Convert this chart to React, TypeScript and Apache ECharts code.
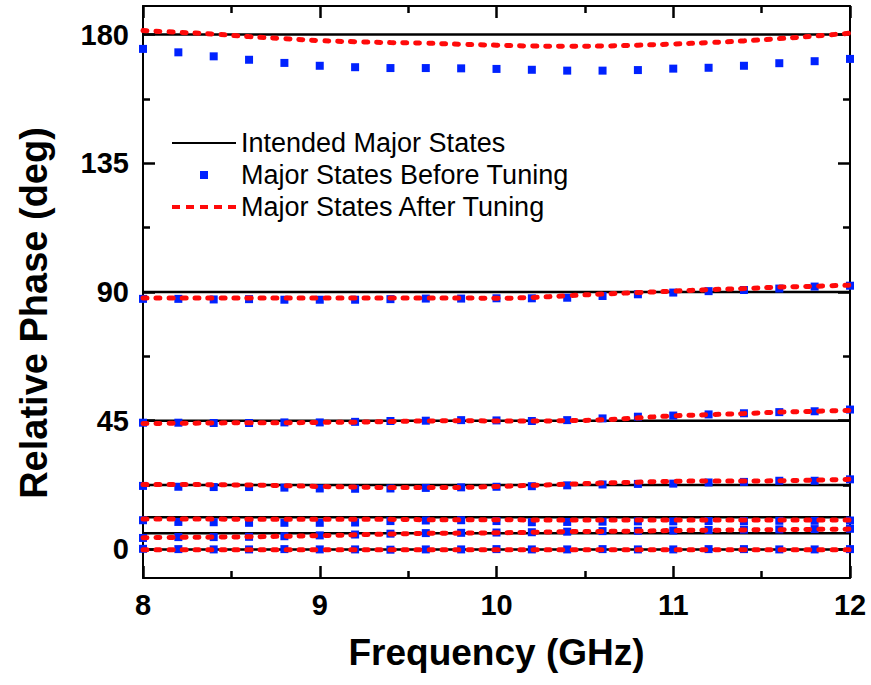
import React, { useEffect, useRef } from "react";
import * as echarts from "echarts";

// Frequency sweep (GHz), one sample every 0.2 GHz
const freq: number[] = [8.0, 8.2, 8.4, 8.6, 8.8, 9.0, 9.2, 9.4, 9.6, 9.8, 10.0, 10.2, 10.4, 10.6, 10.8, 11.0, 11.2, 11.4, 11.6, 11.8, 12.0];

// Intended major phase states (deg)
const intendedStates: number[] = [180, 90, 45, 22.5, 11.25, 5.625, 0];

// Measured phase before tuning (deg)
const before180: number[] = [175.0, 173.8, 172.4, 171.2, 170.1, 169.1, 168.6, 168.3, 168.3, 168.2, 168.0, 167.7, 167.4, 167.4, 167.6, 168.1, 168.4, 169.1, 170.0, 170.7, 171.5];
const before90: number[] = [87.6, 87.6, 87.4, 87.5, 87.3, 87.3, 87.3, 87.5, 87.7, 87.7, 87.8, 87.8, 88.0, 88.6, 89.2, 89.8, 90.3, 90.7, 91.2, 91.9, 92.2];
const before45: number[] = [44.3, 44.3, 44.2, 44.2, 44.4, 44.4, 44.6, 44.9, 45.0, 45.2, 45.1, 44.9, 45.2, 45.8, 46.4, 46.8, 47.2, 47.6, 48.0, 48.3, 48.9];
const before22: number[] = [22.2, 21.9, 21.8, 21.8, 21.6, 21.3, 21.2, 21.3, 21.5, 21.7, 21.9, 22.1, 22.4, 22.7, 22.9, 23.0, 23.4, 23.6, 24.0, 24.0, 24.5];
const before11: number[] = [10.2, 9.6, 9.5, 9.3, 9.3, 9.3, 9.4, 9.9, 10.1, 10.2, 9.9, 9.5, 9.6, 9.7, 9.8, 9.8, 9.9, 9.9, 10.0, 10.0, 10.1];
const before5: number[] = [4.0, 4.3, 4.3, 4.4, 4.6, 4.9, 5.2, 5.5, 5.7, 5.8, 5.9, 6.0, 6.2, 6.4, 6.5, 6.6, 6.8, 6.9, 7.0, 7.1, 7.2];
const before0: number[] = [0.2, 0.1, 0.0, 0.0, 0.1, 0.0, 0.0, -0.1, 0.0, 0.0, 0.1, 0.0, 0.0, 0.1, 0.0, 0.0, 0.1, 0.1, 0.0, 0.0, 0.1];

// Measured phase after tuning (deg)
const after180: number[] = [181.4, 180.8, 180.2, 179.3, 178.6, 177.9, 177.5, 177.2, 177.0, 176.6, 176.3, 176.0, 175.9, 176.0, 176.3, 176.7, 177.2, 177.8, 178.6, 179.5, 180.5];
const after90: number[] = [87.9, 87.9, 87.9, 87.9, 87.9, 87.9, 87.9, 87.9, 87.9, 87.9, 87.8, 88.1, 88.7, 89.3, 89.8, 90.3, 90.8, 91.2, 91.7, 92.0, 92.4];
const after45: number[] = [44.0, 44.1, 44.2, 44.3, 44.3, 44.4, 44.5, 44.7, 44.9, 45.0, 44.9, 44.9, 45.0, 45.3, 46.0, 46.7, 47.1, 47.5, 48.0, 48.3, 48.6];
const after22: number[] = [22.7, 22.7, 22.6, 22.5, 22.3, 22.0, 21.8, 21.6, 21.6, 21.7, 22.0, 22.4, 22.8, 23.2, 23.5, 23.8, 23.9, 23.9, 24.0, 24.2, 24.5];
const after11: number[] = [10.6, 10.6, 10.6, 10.5, 10.5, 10.5, 10.5, 10.5, 10.4, 10.4, 10.4, 10.3, 10.3, 10.3, 10.3, 10.3, 10.3, 10.3, 10.3, 10.3, 10.3];
const after5: number[] = [4.1, 4.2, 4.3, 4.4, 4.6, 4.8, 5.1, 5.4, 5.6, 5.7, 5.8, 6.0, 6.2, 6.3, 6.4, 6.6, 6.7, 6.8, 6.9, 7.0, 7.1];
const after0: number[] = [-0.1, -0.1, -0.1, -0.1, -0.1, -0.1, -0.1, -0.1, -0.1, -0.1, -0.1, -0.1, -0.1, -0.1, -0.1, -0.1, -0.1, -0.1, -0.1, -0.1, -0.1];

const beforeSets: number[][] = [before180, before90, before45, before22, before11, before5, before0];
const afterSets: number[][] = [after180, after90, after45, after22, after11, after5, after0];

// Axis ticks
const xMin = 8;
const xMax = 12;
const yMin = -10;
const yMax = 190;
const yMajorTicks: number[] = [0, 45, 90, 135, 180];
const yMinorTicks: number[] = [22.5, 67.5, 112.5, 157.5];

const NAME_INTENDED = "Intended Major States";
const NAME_BEFORE = "Major States Before Tuning";
const NAME_AFTER = "Major States After Tuning";

const FONT = '"Liberation Sans", Arial, Helvetica, sans-serif';
const BLUE = "#0022ff";
const RED = "#ff0a0a";

function pairs(values: number[]): number[][] {
  return freq.map((f, i) => [f, values[i]]);
}

export default function App() {
  const ref = useRef<HTMLDivElement>(null);

  useEffect(() => {
    document.body.style.margin = "0";
    if (!ref.current) return;
    const chart = echarts.init(ref.current, undefined, { renderer: "svg" });

    const axisLine = { show: true, onZero: false, lineStyle: { color: "#000", width: 2 } };
    const hiddenLine = { show: false, onZero: false };
    const majorTick = (values?: number[]) => ({
      show: true,
      inside: true,
      length: 12,
      ...(values ? { customValues: values } : {}),
      lineStyle: { color: "#000", width: 2.5 },
    });
    const minorTickY = {
      show: true,
      inside: true,
      length: 7,
      customValues: yMinorTicks,
      lineStyle: { color: "#000", width: 2.5 },
    };
    const minorTickX = { show: true, splitNumber: 2, length: 7, lineStyle: { color: "#000", width: 2.5 } };

    const series: any[] = [];
    intendedStates.forEach((s) => {
      series.push({
        name: NAME_INTENDED,
        type: "line",
        data: [[xMin, s], [xMax, s]],
        symbol: "none",
        lineStyle: { color: "#000", width: 2.5 },
        itemStyle: { color: "#000" },
        z: 2,
      });
    });
    beforeSets.forEach((vals) => {
      series.push({
        name: NAME_BEFORE,
        type: "scatter",
        data: pairs(vals),
        symbol: "rect",
        symbolSize: 8,
        itemStyle: { color: BLUE, opacity: 1 },
        z: 3,
      });
    });
    afterSets.forEach((vals) => {
      series.push({
        name: NAME_AFTER,
        type: "line",
        data: pairs(vals),
        symbol: "none",
        smooth: 0.4,
        lineStyle: { color: RED, width: 5, type: [4, 9], cap: "round" },
        itemStyle: { color: RED },
        z: 4,
      });
    });

    chart.setOption({
      animation: false,
      backgroundColor: "#fff",
      grid: { left: 143, right: 21, top: 6, bottom: 107, containLabel: false },
      legend: {
        orient: "vertical",
        left: 170,
        top: 128,
        padding: 0,
        itemGap: 2,
        itemWidth: 64,
        itemHeight: 8,
        selectedMode: false,
        textStyle: { fontFamily: FONT, fontSize: 27, color: "#000", lineHeight: 30 },
        data: [
          { name: NAME_INTENDED, itemStyle: { opacity: 0 } },
          { name: NAME_BEFORE, icon: "path://M0,0h10v10h-10z" },
          { name: NAME_AFTER, itemStyle: { opacity: 0 }, lineStyle: { width: 4, type: [8, 6], cap: "butt" } },
        ],
      },
      xAxis: [
        {
          type: "value",
          position: "bottom",
          min: xMin,
          max: xMax,
          interval: 1,
          axisLine,
          axisTick: majorTick(),
          minorTick: minorTickX,
          splitLine: { show: false },
          minorSplitLine: { show: false },
          axisLabel: { fontFamily: FONT, fontWeight: "bold", fontSize: 29, color: "#000", margin: 12 },
          name: "Frequency (GHz)",
          nameLocation: "middle",
          nameGap: 56,
          nameTextStyle: { fontFamily: FONT, fontWeight: "bold", fontSize: 37, color: "#000" },
        },
        {
          type: "value",
          position: "top",
          min: xMin,
          max: xMax,
          interval: 1,
          axisLine,
          axisTick: majorTick(),
          minorTick: minorTickX,
          splitLine: { show: false },
          minorSplitLine: { show: false },
          axisLabel: { show: false },
        },
      ],
      yAxis: [
        {
          type: "value",
          position: "left",
          min: yMin,
          max: yMax,
          axisLine,
          axisTick: majorTick(yMajorTicks),
          splitLine: { show: false },
          axisLabel: { customValues: yMajorTicks, fontFamily: FONT, fontWeight: "bold", fontSize: 29, color: "#000", margin: 14 },
        },
        {
          type: "value",
          position: "left",
          min: yMin,
          max: yMax,
          axisLine: hiddenLine,
          axisTick: minorTickY,
          splitLine: { show: false },
          axisLabel: { show: false },
        },
        {
          type: "value",
          position: "right",
          min: yMin,
          max: yMax,
          axisLine,
          axisTick: majorTick(yMajorTicks),
          splitLine: { show: false },
          axisLabel: { show: false },
        },
        {
          type: "value",
          position: "right",
          min: yMin,
          max: yMax,
          axisLine: hiddenLine,
          axisTick: minorTickY,
          splitLine: { show: false },
          axisLabel: { show: false },
        },
      ],
      graphic: [
        {
          type: "text",
          x: 34,
          y: 313,
          rotation: Math.PI / 2,
          style: {
            text: "Relative Phase (deg)",
            font: `bold 38px ${FONT}`,
            fill: "#000",
            align: "center",
            verticalAlign: "middle",
          },
        },
      ],
      series,
    });

    return () => chart.dispose();
  }, []);

  return <div ref={ref} style={{ width: 871, height: 685 }} />;
}
